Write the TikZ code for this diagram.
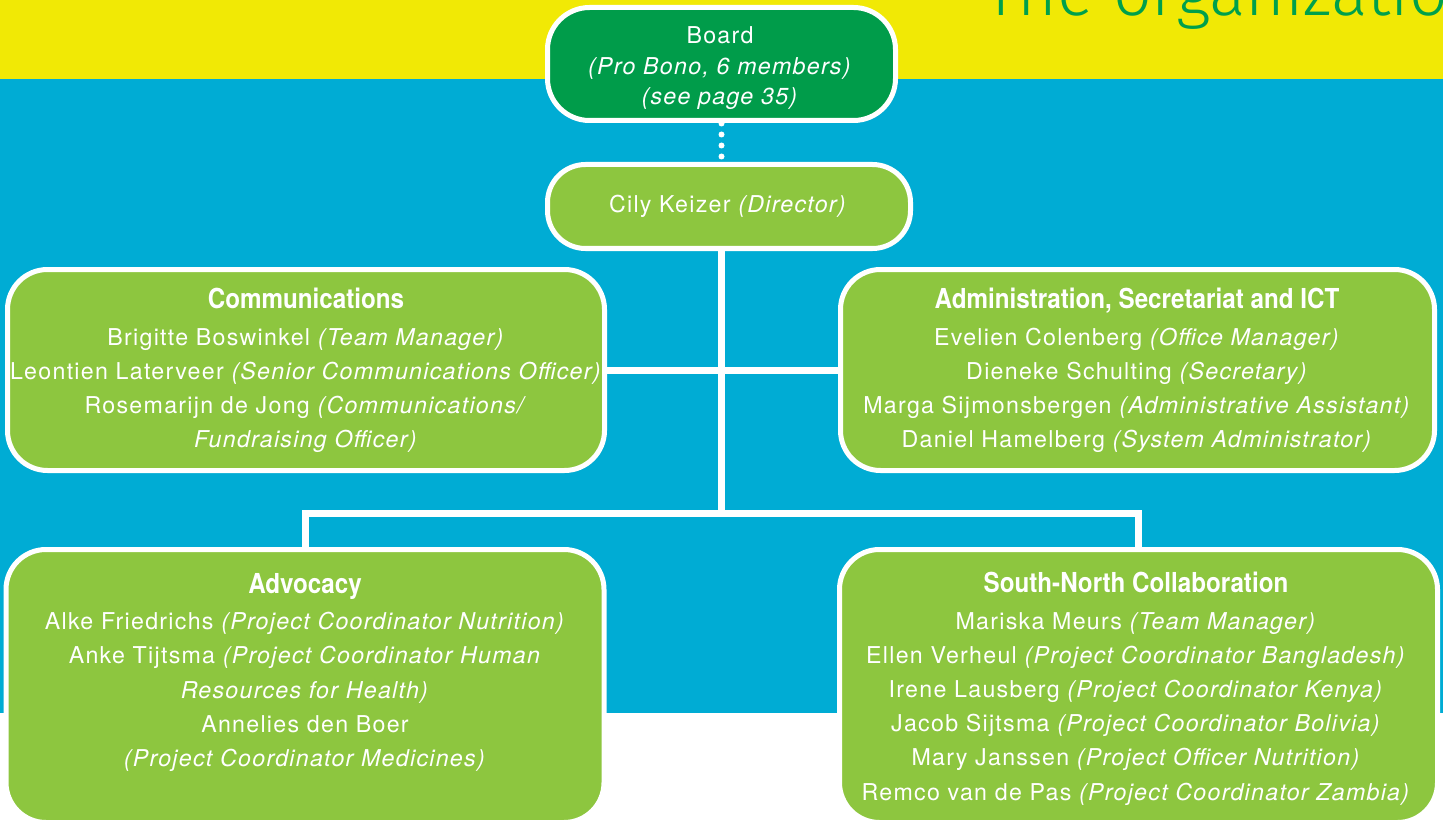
\documentclass[tikz,border=0pt]{standalone}
\usepackage{fontspec}
\setmainfont{TeX Gyre Heros}[LetterSpace=5.5]
\newfontfamily\headfont{TeX Gyre Heros}[FakeStretch=0.88]
\newfontfamily\titlefont{Fira Sans Light}
\definecolor{yellowbg}{RGB}{241,233,5}
\definecolor{bluebg}{RGB}{0,172,212}
\definecolor{boardgreen}{RGB}{0,156,74}
\definecolor{boxgreen}{RGB}{141,198,63}
\definecolor{titlegreen}{RGB}{0,160,75}
\pgfdeclarelayer{bg}
\pgfdeclarelayer{links}
\pgfsetlayers{bg,links,main}
\newcommand\heading[1]{{\headfont\bfseries\fontsize{27.5}{34.2}\selectfont #1}}
\begin{document}
\begin{tikzpicture}[x=1pt,y=-1pt,
  every node/.style={text=white},
  box/.style={draw=white, line width=5pt, inner sep=0pt},
  teambox/.style={box, fill=boxgreen, rounded corners=40pt},
  body/.style={font=\fontsize{23.2}{34.2}\selectfont, align=center, inner sep=0pt, anchor=north},
  link/.style={draw=white, line width=7pt},
  dotline/.style={draw=white, line width=6pt, line cap=round,
    dash pattern=on 0pt off 11pt, dash phase=10.5pt}]
\useasboundingbox (0,0) rectangle (1443,821);

% page background: yellow header band, blue field, white foot
\begin{pgfonlayer}{bg}
  \fill[yellowbg] (0,0) rectangle (1443,79);
  \fill[bluebg] (0,79) rectangle (1443,713);
  \begin{scope}
    \clip (0,0) rectangle (1443,79);
    \node[anchor=base west, inner sep=0pt, text=titlegreen,
      font=\titlefont\fontsize{68}{68}\selectfont] (title) at (984,16) {The organizatio};
  \end{scope}
\end{pgfonlayer}

% board and director
\node[box, fill=boardgreen, rounded corners=42pt, minimum width=348pt, minimum height=113pt] (board) at (721.5,64) {};
\node[body, font=\fontsize{23.2}{29.5}\selectfont] (boardtxt) at (720,26)
  {Board\\[2pt]\textit{(Pro Bono, 6 members)}\\\textit{(see page 35)}};
\node[box, fill=boxgreen, rounded corners=38pt, minimum width=363pt, minimum height=84pt] (dir) at (729,206.5) {};
\node[body, anchor=base] (dirtxt) at (728,212.5) {Cily Keizer \textit{(Director)}};

% team boxes
\node[teambox, minimum width=597pt, minimum height=201pt] (comm) at (306,370) {};
\node[teambox, minimum width=594pt, minimum height=201pt] (admin) at (1137.5,370) {};
\node[teambox, minimum width=598pt, minimum height=273pt] (adv) at (305,686) {};
\node[teambox, minimum width=598pt, minimum height=273pt] (sn) at (1138.5,686) {};

\node[body] (commtxt) at (306,288) {\heading{Communications}\\[2.3pt]
  Brigitte Boswinkel \textit{(Team Manager)}\\
  Leontien Laterveer \textit{(Senior Communications Officer)}\\
  Rosemarijn de Jong \textit{(Communications/}\\
  \textit{Fundraising Officer)}};
\node[body] (admintxt) at (1137,288) {\heading{Administration, Secretariat and ICT}\\[2.3pt]
  Evelien Colenberg \textit{(Office Manager)}\\
  Dieneke Schulting \textit{(Secretary)}\\
  Marga Sijmonsbergen \textit{(Administrative Assistant)}\\
  Daniel Hamelberg \textit{(System Administrator)}};
\node[body] (advtxt) at (305,573) {\heading{Advocacy}\\[2.3pt]
  Alke Friedrichs \textit{(Project Coordinator Nutrition)}\\
  Anke Tijtsma \textit{(Project Coordinator Human}\\
  \textit{Resources for Health)}\\
  Annelies den Boer\\
  \textit{(Project Coordinator Medicines)}};
\node[body] (sntxt) at (1136,572) {\heading{South-North Collaboration}\\[2.3pt]
  Mariska Meurs \textit{(Team Manager)}\\
  Ellen Verheul \textit{(Project Coordinator Bangladesh)}\\
  Irene Lausberg \textit{(Project Coordinator Kenya)}\\
  Jacob Sijtsma \textit{(Project Coordinator Bolivia)}\\
  Mary Janssen \textit{(Project Officer Nutrition)}\\
  Remco van de Pas \textit{(Project Coordinator Zambia)}};

% reporting lines, kept beneath the boxes
\coordinate (trunk) at (721,513);
\begin{pgfonlayer}{links}
  \draw[dotline] (board.south) -- (board.south |- dir.north);
  \draw[link] (trunk |- dir.south) -- (trunk);
  \draw[link] (comm.east) -- (admin.west);
  \draw[link] (adv.north) |- (trunk) -| (sn.north);
\end{pgfonlayer}
\end{tikzpicture}
\end{document}
